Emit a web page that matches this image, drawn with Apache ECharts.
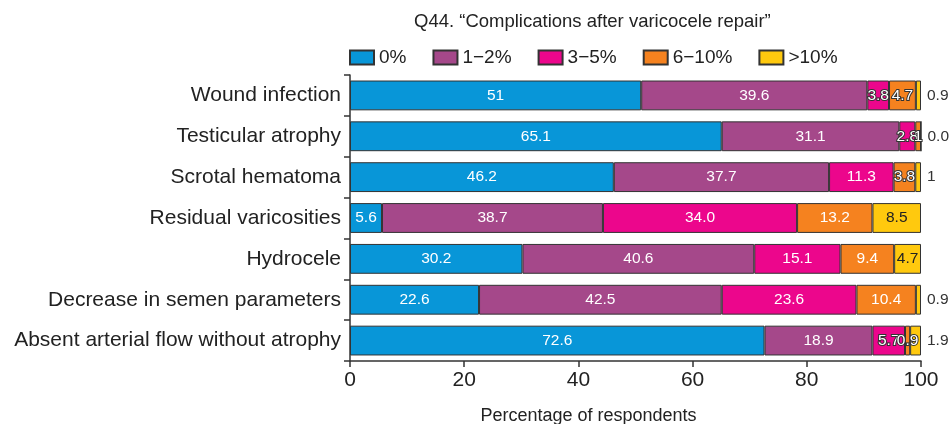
<!DOCTYPE html>
<html>
<head>
<meta charset="utf-8">
<script src="https://cdn.jsdelivr.net/npm/echarts@6/dist/echarts.min.js"></script>
<style>
  html, body { margin: 0; padding: 0; background: #fff; }
  #main { width: 949px; height: 424px; }
</style>
</head>
<body>
<div id="main"></div>
<script>
// categories, top to bottom
const categories = [
  "Wound infection",
  "Testicular atrophy",
  "Scrotal hematoma",
  "Residual varicosities",
  "Hydrocele",
  "Decrease in semen parameters",
  "Absent arterial flow without atrophy"
];
const seriesNames = ["0%", "1−2%", "3−5%", "6−10%", ">10%"];
// values as printed on the bars
const pct0 = ["51", "65.1", "46.2", "5.6", "30.2", "22.6", "72.6"];
const pct1to2 = ["39.6", "31.1", "37.7", "38.7", "40.6", "42.5", "18.9"];
const pct3to5 = ["3.8", "2.8", "11.3", "34.0", "15.1", "23.6", "5.7"];
const pct6to10 = ["4.7", "1", "3.8", "13.2", "9.4", "10.4", "0.9"];
const pctOver10 = ["0.9", "0.0", "1", "8.5", "4.7", "0.9", "1.9"];
const xTicks = [0, 20, 40, 60, 80, 100];

const colors = ["#0896d8", "#a5488a", "#ec068c", "#f5821f", "#ffc90e"];
const allValues = [pct0, pct1to2, pct3to5, pct6to10, pctOver10];

function labelFor(si, v) {
  if (si === 4) {
    if (v < 2) {
      return { position: "right", color: "#333", distance: 6 };
    }
    return { color: "#222" };
  }
  if (si >= 2 && v < 6) {
    return { color: "#fff", textBorderColor: "#333", textBorderWidth: 2 };
  }
  return { color: "#fff" };
}

const series = allValues.map((arr, si) => ({
  name: seriesNames[si],
  type: "bar",
  stack: "total",
  barCategoryGap: "27%",
  itemStyle: { color: colors[si], borderColor: "#333", borderWidth: 1 },
  label: {
    show: true,
    position: "inside",
    fontSize: 15.5,
    fontFamily: "Liberation Sans",
    formatter: (p) => p.data.text
  },
  data: arr.map((s) => {
    const v = Number(s);
    return { value: v, text: s, label: labelFor(si, v) };
  })
}));

const chart = echarts.init(document.getElementById("main"));
chart.setOption({
  animation: false,
  textStyle: { fontFamily: "Liberation Sans" },
  color: colors,
  title: {
    text: "Q44. “Complications after varicocele repair”",
    left: 409,
    top: 7,
    textStyle: { fontSize: 18.5, fontWeight: "normal", color: "#222" }
  },
  legend: {
    left: 344,
    top: 43,
    icon: "rect",
    itemWidth: 24,
    itemHeight: 14,
    itemGap: 26,
    textStyle: { fontSize: 19, color: "#222" },
    data: seriesNames
  },
  grid: { left: 350, right: 28, top: 75, bottom: 63, outerBoundsMode: "none" },
  xAxis: {
    type: "value",
    min: 0,
    max: 100,
    interval: 20,
    name: "Percentage of respondents",
    nameLocation: "middle",
    nameGap: 46,
    nameTextStyle: { fontSize: 18, color: "#222", padding: [0, 94, 0, 0] },
    splitLine: { show: false },
    axisLine: { show: true, lineStyle: { color: "#333", width: 1.5 } },
    axisTick: { show: true, length: 6, lineStyle: { color: "#333", width: 1.5 } },
    axisLabel: {
      fontSize: 21,
      color: "#222",
      margin: 9,
      formatter: (v) => (xTicks.includes(v) ? String(v) : "")
    }
  },
  yAxis: {
    type: "category",
    inverse: true,
    data: categories,
    axisLine: { show: true, lineStyle: { color: "#333", width: 1.5 } },
    axisTick: { show: true, length: 6, lineStyle: { color: "#333", width: 1.5 } },
    axisLabel: { fontSize: 21, color: "#222", margin: 9 }
  },
  series: series
});
</script>
</body>
</html>
